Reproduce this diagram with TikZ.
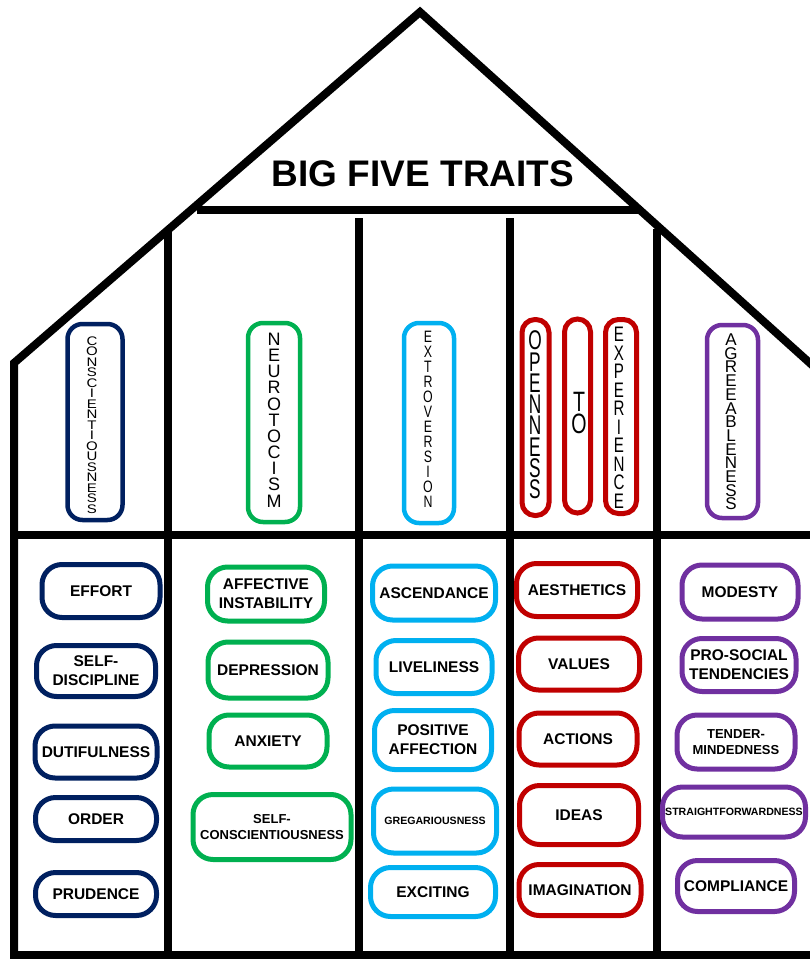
\documentclass[tikz,border=0pt]{standalone}
\usepackage{fontspec}
\setmainfont{Liberation Sans}

\definecolor{tnavy}{HTML}{002060}
\definecolor{tgreen}{HTML}{00B050}
\definecolor{tblue}{HTML}{00B0F0}
\definecolor{tred}{HTML}{C00000}
\definecolor{tpurple}{HTML}{7030A0}

% letters stacked one above the other: xscale, yscale, font size, pitch, letters (\cr separated)
\newcommand\vword[5]{\scalebox{#1}[#2]{\fontsize{#3}{#4}\selectfont
  \vbox{\lineskiplimit=-\maxdimen\halign{\hfil##\hfil\cr#5\crcr}}}}

\begin{document}
\begin{tikzpicture}[x=1pt,y=-1pt,
  wall/.style={line width=8pt},
  traitbox/.style={draw, line width=4.5pt, rounded corners=15pt, inner sep=0pt},
  slimbox/.style={draw, line width=5pt, rounded corners=13pt, inner sep=0pt},
  facet/.style={draw, line width=5pt, rounded corners=20pt, inner sep=0pt,
    align=center, text=black, font=\fontsize{15.5}{19}\selectfont\bfseries},
  sz/.style 2 args={minimum width=#1pt-5pt, minimum height=#2pt-5pt},
  small/.style={font=\fontsize{13}{15.5}\selectfont\bfseries},
  tiny/.style={font=\fontsize{10.6}{13}\selectfont\bfseries}]
\useasboundingbox (0,0) rectangle (809,959);

% house outline
\coordinate (apex) at (420,12);
\coordinate (lwall) at (14,363);
\coordinate (lfoot) at (14,955);
\coordinate (rfoot) at (815,955);
\coordinate (rroof) at (822,374);
\draw[wall, line join=miter] (rfoot) -- (lfoot) -- (lwall) -- (apex) -- (rroof);
\draw[wall] (14,535) -- (815,535);
\draw[wall] (197,210) -- (642,210);
\draw[wall] (168,232) -- (168,955);
\draw[wall] (359,218) -- (359,955);
\draw[wall] (510,218) -- (510,955);
\draw[wall] (657,229) -- (657,955);

\node (title) at (423,174) {\fontsize{37}{40}\selectfont\bfseries BIG FIVE TRAITS};

% trait pillars
\node[traitbox, draw=tnavy, minimum width=55pt, minimum height=196pt] (consbox) at (95,422) {};
\node (constxt) at (92,425) {\vword{1}{0.83}{15}{12.65}{C\cr O\cr N\cr S\cr C\cr I\cr E\cr N\cr T\cr I\cr O\cr U\cr S\cr N\cr E\cr S\cr S}};

\node[traitbox, draw=tgreen, minimum width=52pt, minimum height=199pt] (neurbox) at (274,422.5) {};
\node (neurtxt) at (274,420) {\vword{1}{1}{18}{16.2}{N\cr E\cr U\cr R\cr O\cr T\cr O\cr C\cr I\cr S\cr M}};

\node[traitbox, draw=tblue, minimum width=50pt, minimum height=200pt] (extrbox) at (429,423) {};
\node (extrtxt) at (428,419.5) {\vword{0.75}{1}{16.5}{15}{E\cr X\cr T\cr R\cr O\cr V\cr E\cr R\cr S\cr I\cr O\cr N}};

\node[slimbox, draw=tred, minimum width=27pt, minimum height=196pt] (openbox) at (535.5,417.5) {};
\node (opentxt) at (535,415) {\vword{0.64}{1}{27}{21.3}{O\cr P\cr E\cr N\cr N\cr E\cr S\cr S}};

\node[slimbox, draw=tred, minimum width=26pt, minimum height=194pt] (tobox) at (577.5,416) {};
\node (totxt) at (579,413) {\vword{0.7}{1}{28}{22}{T\cr O}};

\node[slimbox, draw=tred, minimum width=31pt, minimum height=194pt] (expbox) at (621,416.5) {};
\node (exptxt) at (619,418) {\vword{0.72}{1}{21}{18.5}{E\cr X\cr P\cr E\cr R\cr I\cr E\cr N\cr C\cr E}};

\node[traitbox, draw=tpurple, minimum width=51pt, minimum height=193pt] (agrbox) at (732.5,421.5) {};
\node (agrtxt) at (731,422) {\vword{1}{1}{17}{13.7}{A\cr G\cr R\cr E\cr E\cr A\cr B\cr L\cr E\cr N\cr E\cr S\cr S}};

% conscientiousness facets
\begin{scope}[every node/.append style={facet, draw=tnavy}]
\node[sz={123}{58}] (effort) at (101,591) {EFFORT};
\node[sz={124}{56}] (selfdisc) at (96,671) {SELF-\\DISCIPLINE};
\node[sz={127}{57}] (dutiful) at (96,752) {DUTIFULNESS};
\node[sz={126}{48}] (order) at (96,819) {ORDER};
\node[sz={126}{48}] (prudence) at (96,894) {PRUDENCE};
\end{scope}

% neuroticism facets
\begin{scope}[every node/.append style={facet, draw=tgreen}]
\node[sz={122}{59}] (affinst) at (266,594) {AFFECTIVE\\INSTABILITY};
\node[sz={125}{61}] (depress) at (268,670) {DEPRESSION};
\node[sz={123}{57}] (anxiety) at (268,741) {ANXIETY};
\node[sz={163}{70}, small] (selfcons) at (272,827) {SELF-\\CONSCIENTIOUSNESS};
\end{scope}

% extroversion facets
\begin{scope}[every node/.append style={facet, draw=tblue}]
\node[sz={128}{59}] (ascend) at (434,593) {ASCENDANCE};
\node[sz={121}{58}] (lively) at (434,667) {LIVELINESS};
\node[sz={122}{64}] (posaff) at (433,740) {POSITIVE\\AFFECTION};
\node[sz={128}{69}, tiny] (gregar) at (435,821) {GREGARIOUSNESS};
\node[sz={130}{54}] (exciting) at (433,892) {EXCITING};
\end{scope}

% openness facets
\begin{scope}[every node/.append style={facet, draw=tred}]
\node[sz={126}{58}] (aesth) at (577,590) {AESTHETICS};
\node[sz={126}{57}] (values) at (579,664) {VALUES};
\node[sz={123}{57}] (actions) at (578,739) {ACTIONS};
\node[sz={124}{64}] (ideas) at (579,815) {IDEAS};
\node[sz={127}{56}] (imagin) at (580,890) {IMAGINATION};
\end{scope}

% agreeableness facets
\begin{scope}[every node/.append style={facet, draw=tpurple}]
\node[sz={121}{59}] (modesty) at (740,592) {MODESTY};
\node[sz={119}{58}] (prosocial) at (739,665) {PRO-SOCIAL\\TENDENCIES};
\node[sz={123}{59}, small] (tender) at (736,742) {TENDER-\\MINDEDNESS};
\node[sz={148}{55}, tiny] (straight) at (734,812) {STRAIGHTFORWARDNESS};
\node[sz={122}{56}] (comply) at (736,886) {COMPLIANCE};
\end{scope}
\end{tikzpicture}
\end{document}
